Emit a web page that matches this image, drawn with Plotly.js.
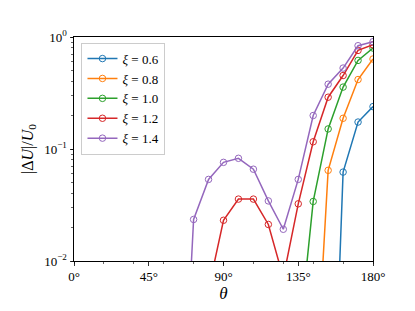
<!DOCTYPE html>
<html>
<head>
<meta charset="utf-8">
<script src="https://cdn.plot.ly/plotly-3.0.1.min.js"></script>
<style>html,body{margin:0;padding:0;background:#fff;}#chart{width:415px;height:311px;}</style>
</head>
<body>
<div id="chart"></div>
<script>
var theta = [0, 9, 18, 27, 36, 45, 54, 63, 72, 81, 90, 99, 108, 117, 126, 135, 144, 153, 162, 171, 180];
var xi06 = [null, null, null, null, null, null, null, null, null, null, null, null, null, null, null, null, null, 1.6e-5, 0.0622, 0.174, 0.239];
var xi08 = [null, null, null, null, null, null, null, null, null, null, null, null, null, null, null, null, 0.00029, 0.0645, 0.188, 0.417, 0.636];
var xi10 = [null, null, null, null, null, null, null, null, null, null, null, null, null, null, null, 0.0017, 0.034, 0.151, 0.357, 0.618, 0.797];
var xi12 = [null, null, null, null, null, null, null, null, null, 0.0056, 0.0231, 0.0357, 0.0357, 0.0212, 0.0071, 0.0324, 0.116, 0.29, 0.453, 0.759, 0.853];
var xi14 = [null, null, null, null, null, null, null, 6e-5, 0.0235, 0.0535, 0.076, 0.0826, 0.066, 0.0344, 0.0192, 0.0535, 0.199, 0.379, 0.528, 0.836, 0.908];
var seriesNames = ['<i>ξ</i> = 0.6', '<i>ξ</i> = 0.8', '<i>ξ</i> = 1.0', '<i>ξ</i> = 1.2', '<i>ξ</i> = 1.4'];
var seriesData = [xi06, xi08, xi10, xi12, xi14];
var colors = ['#1f77b4', '#ff7f0e', '#2ca02c', '#d62728', '#9467bd'];
var xTickVals = [0, 45, 90, 135, 180];
var xTickText = ['0°', '45°', '90°', '135°', '180°'];
var yTickVals = [0.01, 0.1, 1];
var yTickText = ['10<sup>−2</sup>', '10<sup>−1</sup>', '10<sup>0</sup>'];

var font = '"Liberation Serif", "DejaVu Serif", serif';
var traces = seriesData.map(function (d, i) {
  return {
    x: theta, y: d, name: seriesNames[i], type: 'scatter', mode: 'lines+markers',
    line: {color: colors[i], width: 1.5},
    marker: {symbol: 'circle-open', size: 6.5, color: colors[i], line: {width: 1, color: colors[i]}},
    connectgaps: false
  };
});
var layout = {
  width: 415, height: 311,
  margin: {l: 74, r: 42, t: 37, b: 50},
  paper_bgcolor: '#fff', plot_bgcolor: '#fff',
  font: {family: font, size: 12, color: '#000'},
  showlegend: true,
  legend: {x: 0.025, y: 0.975, xanchor: 'left', yanchor: 'top', bgcolor: 'rgba(255,255,255,0.8)',
           bordercolor: '#cccccc', borderwidth: 1, font: {family: font, size: 13}, tracegroupgap: 0},
  xaxis: {
    range: [0, 180], tickmode: 'array', tickvals: xTickVals, ticktext: xTickText,
    showgrid: false, zeroline: false, showline: true, linecolor: '#000', linewidth: 1, mirror: true,
    ticks: 'outside', ticklen: 3.5, tickwidth: 0.8, tickcolor: '#000',
    minor: {dtick: 18, tick0: 0, ticks: 'outside', ticklen: 2, tickwidth: 0.6, tickcolor: '#000', showgrid: false},
    tickfont: {family: font, size: 13},
    title: {text: '<i>θ</i>', font: {family: font, size: 17}, standoff: 4}
  },
  yaxis: {
    type: 'log', range: [-2, 0], tickmode: 'array', tickvals: yTickVals, ticktext: yTickText,
    showgrid: false, zeroline: false, showline: true, linecolor: '#000', linewidth: 1, mirror: true,
    ticks: 'outside', ticklen: 3.5, tickwidth: 0.8, tickcolor: '#000',
    minor: {ticks: 'outside', ticklen: 2, tickwidth: 0.6, tickcolor: '#000', showgrid: false, dtick: 'D1'},
    tickfont: {family: font, size: 13},
    title: {text: '|Δ<i>U</i>|/<i>U</i><sub>0</sub>', font: {family: font, size: 16}, standoff: 6}
  }
};
Plotly.newPlot('chart', traces, layout, {displayModeBar: false, staticPlot: true});
</script>
</body>
</html>
